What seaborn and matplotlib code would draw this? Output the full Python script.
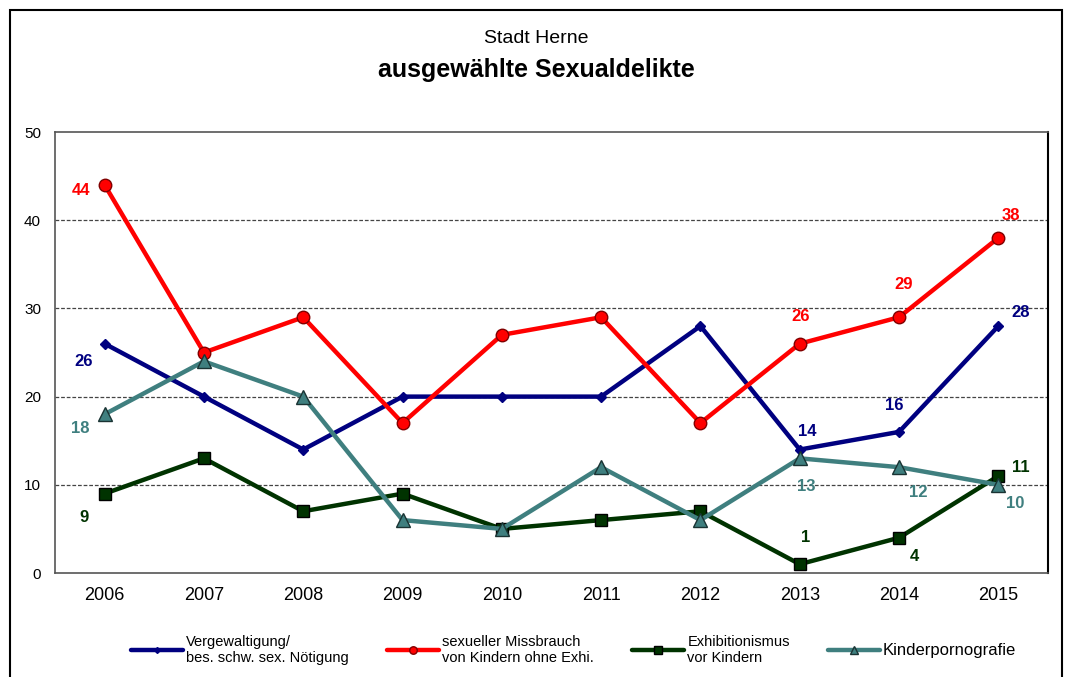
import pandas as pd
import matplotlib.pyplot as plt
import seaborn as sns
from matplotlib.patches import Rectangle

years = ['2006', '2007', '2008', '2009', '2010', '2011', '2012', '2013', '2014', '2015']
vergewaltigung = [26, 20, 14, 20, 20, 20, 28, 14, 16, 28]
missbrauch = [44, 25, 29, 17, 27, 29, 17, 26, 29, 38]
exhibitionismus = [9, 13, 7, 9, 5, 6, 7, 1, 4, 11]
kinderporno = [18, 24, 20, 6, 5, 12, 6, 13, 12, 10]

names = ['Vergewaltigung/\nbes. schw. sex. Nötigung',
         'sexueller Missbrauch\nvon Kindern ohne Exhi.',
         'Exhibitionismus\nvor Kindern',
         'Kinderpornografie']

sns.set_style('white')
plt.rcParams['font.family'] = ['Liberation Sans', 'DejaVu Sans']
plt.rcParams['text.color'] = 'black'
plt.rcParams['xtick.labelcolor'] = 'black'
plt.rcParams['ytick.labelcolor'] = 'black'

df = pd.DataFrame({'idx': range(len(years)), 'year': years,
                   names[0]: vergewaltigung, names[1]: missbrauch,
                   names[2]: exhibitionismus, names[3]: kinderporno})

styles = {
    names[0]: dict(color='#000080', marker='D', markersize=5, mec='#000080'),
    names[1]: dict(color='#ff0000', marker='o', markersize=9, mec='#800000'),
    names[2]: dict(color='#003300', marker='s', markersize=9, mec='#000000'),
    names[3]: dict(color='#3f7f7f', marker='^', markersize=10, mec='#1a3333'),
}

fig = plt.figure(figsize=(10.72, 6.77), dpi=100)
ax = fig.add_axes([0.0513, 0.1536, 0.9263, 0.6514])

for n in names:
    s = styles[n]
    sns.lineplot(data=df, x='idx', y=n, ax=ax, color=s['color'], lw=3.2,
                 marker=s['marker'], markersize=s['markersize'],
                 markeredgecolor=s['mec'], markeredgewidth=1, label=n)

# data labels: (series, year index, dx px, dy px)
labels = [
    (0, 0, -21, -18), (0, 7, 8, 18), (0, 8, -5, 26), (0, 9, 22, 14),
    (1, 0, -24, -6), (1, 7, 1, 27), (1, 8, 5, 33), (1, 9, 13, 22),
    (2, 0, -21, -24), (2, 7, 6, 27), (2, 8, 15, -19), (2, 9, 22, 8),
    (3, 0, -24, -14), (3, 7, 7, -28), (3, 8, 19, -25), (3, 9, 17, -19),
]
for si, i, dx, dy in labels:
    n = names[si]
    ax.annotate(str(df[n][i]), (i, df[n][i]), xytext=(dx, dy),
                textcoords='offset pixels', ha='center', va='center',
                fontsize=12, fontweight='bold', color=styles[n]['color'])

ax.set_xlim(-0.5, 9.5)
ax.set_ylim(0, 50)
ax.set_yticks(range(0, 51, 10))
ax.set_xticks(range(10))
ax.set_xticklabels(years, fontsize=13)
ax.set_xticks([x + 0.5 for x in range(-1, 10)], minor=True)
ax.tick_params(axis='x', which='major', length=0, pad=10)
ax.tick_params(axis='x', which='minor', length=6, direction='out', color='#555555')
ax.tick_params(axis='y', length=6, direction='out', color='#555555', labelsize=11, pad=4)
ax.set_xlabel('')
ax.set_ylabel('')
for y in range(10, 50, 10):
    ax.axhline(y, color='#444444', lw=0.9, ls=(0, (3, 1.5)), zorder=0)
for sp in ax.spines.values():
    sp.set_color('#555555')
    sp.set_linewidth(1.2)
ax.spines['right'].set_color('black')
ax.spines['right'].set_linewidth(1.5)

ax.get_legend().remove()
h, l = ax.get_legend_handles_labels()
leg = fig.legend(h, l, loc='center', bbox_to_anchor=(0.535, 0.04), ncol=4, frameon=False,
                 fontsize=10.5, handlelength=3.6, columnspacing=2.6, handletextpad=0.2,
                 markerscale=0.6)
leg.get_texts()[3].set_fontsize(12)

fig.text(0.5, 0.943, 'Stadt Herne', ha='center', va='center', fontsize=14)
fig.text(0.5, 0.897, 'ausgewählte Sexualdelikte', ha='center', va='center',
         fontsize=18, fontweight='bold')

fig.patches.append(Rectangle((10 / 1072, -0.1), 1052 / 1072, 1.1 - 10 / 677,
                             transform=fig.transFigure, fill=False, ec='black', lw=1.5))

fig.savefig('out.png', dpi=100)
